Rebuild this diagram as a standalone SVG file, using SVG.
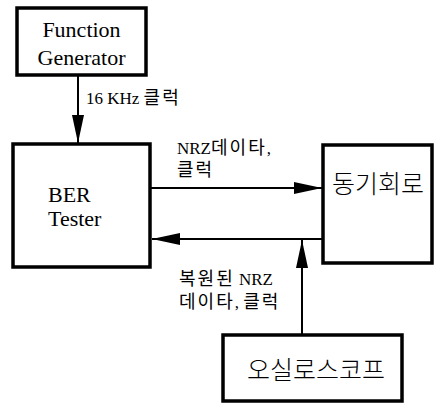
<svg xmlns="http://www.w3.org/2000/svg" width="434" height="406" viewBox="0 0 434 406">
<defs>
<marker id="ah" viewBox="0 0 28 12" refX="28" refY="6" markerWidth="28" markerHeight="12" markerUnits="userSpaceOnUse" orient="auto">
<path d="M0,0 L28,6 L0,12 Z" fill="#000"/>
</marker>
</defs>
<style>
.box{fill:#fff;stroke:#000;stroke-width:3.5}
.ln{stroke:#000;stroke-width:2;fill:none}
.en{font-family:"Liberation Serif","Noto Sans CJK KR",serif;fill:#000}
.ko{font-family:"Noto Sans CJK KR","Liberation Sans",sans-serif;fill:#000;font-weight:300}
.lb{font-family:"Liberation Serif","Noto Sans CJK KR",serif;font-size:17px;fill:#000}
.k{font-family:"Noto Sans CJK KR",sans-serif;font-size:18px;letter-spacing:2px}
</style>
<rect width="434" height="406" fill="#fff"/>
<g id="connectors">
<line class="ln" x1="78" y1="75" x2="78" y2="143" marker-end="url(#ah)"/>
<line class="ln" x1="151" y1="188" x2="322" y2="188" marker-end="url(#ah)"/>
<line class="ln" x1="322" y1="239" x2="152" y2="239" marker-end="url(#ah)"/>
<line class="ln" x1="302" y1="335" x2="302" y2="240" marker-end="url(#ah)"/>
<text class="lb" x="86" y="104" font-size="15">16 KHz <tspan class="k" letter-spacing="6">클럭</tspan></text>
<text class="lb" x="177" y="154">NRZ<tspan class="k">데이</tspan><tspan class="k" letter-spacing="0">타</tspan>,</text>
<text class="lb" x="177" y="176"><tspan class="k">클럭</tspan></text>
<text class="lb" x="179" y="285"><tspan class="k">복원</tspan><tspan class="k" letter-spacing="0">된</tspan> NRZ</text>
<text class="lb" x="179" y="308"><tspan class="k">데이</tspan><tspan class="k" letter-spacing="0">타</tspan>, <tspan class="k">클럭</tspan></text>
</g>
<g id="function-generator">
<rect class="box" x="17" y="8" width="129" height="67"/>
<text class="en" x="81.5" y="37" font-size="22" text-anchor="middle">Function</text>
<text class="en" x="81.5" y="65" font-size="22" text-anchor="middle">Generator</text>
</g>
<g id="ber-tester">
<rect class="box" x="13" y="144" width="137" height="123"/>
<text class="en" x="48" y="202" font-size="22">BER</text>
<text class="en" x="48" y="226" font-size="22">Tester</text>
</g>
<g id="sync-circuit">
<rect class="box" x="323" y="145" width="109" height="118"/>
<text class="ko" x="332" y="193" font-size="25">동기회로</text>
</g>
<g id="oscilloscope">
<rect class="box" x="223" y="335" width="179" height="66"/>
<text class="ko" x="247" y="379" font-size="25">오실로스코프</text>
</g>
</svg>
